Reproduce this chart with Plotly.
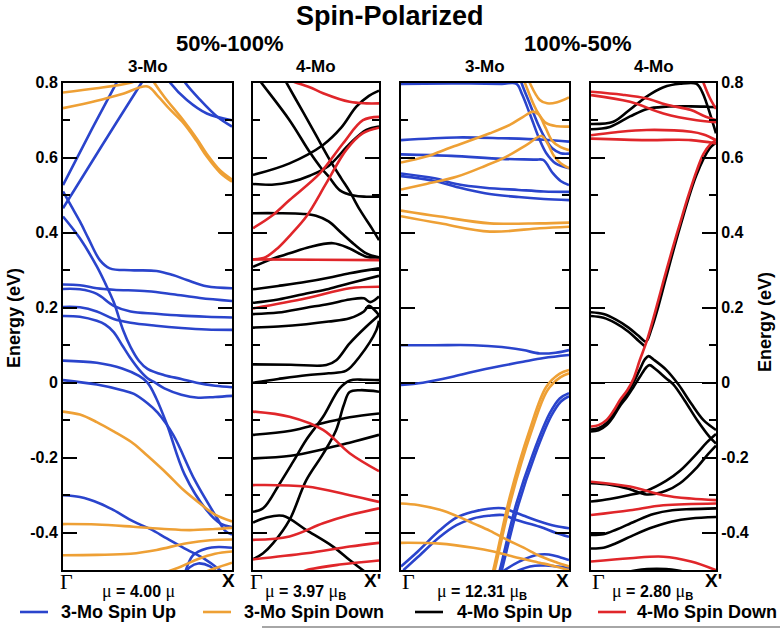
import plotly.graph_objects as go

# ---------------- data (k along Γ→X, energy in eV) ----------------
# Panel 1 : 50%-100%, 3-Mo
P1_UP = [
    [(0.58, 0.84), (0.634, 0.80), (0.733, 0.754), (0.851, 0.718), (1.0, 0.70)],
    [(0.67, 0.84), (0.723, 0.80), (0.812, 0.754), (0.911, 0.71), (1.0, 0.683)],
    [(0, 0.527), (0.158, 0.665), (0.317, 0.80), (0.35, 0.83)],
    [(0, 0.465), (0.23, 0.632), (0.465, 0.80), (0.5, 0.825)],
    [(0, 0.51), (0.05, 0.47), (0.1, 0.43), (0.15, 0.385), (0.218, 0.327), (0.277, 0.305), (0.4, 0.300),
     (0.554, 0.298), (0.65, 0.287), (0.733, 0.274), (0.85, 0.257), (1.0, 0.252)],
    [(0, 0.262), (0.1, 0.26), (0.2, 0.252), (0.3, 0.248), (0.5, 0.244), (0.65, 0.236), (0.81, 0.226), (1.0, 0.218)],
    [(0, 0.25), (0.1, 0.249), (0.2, 0.237), (0.3, 0.205), (0.4, 0.19), (0.55, 0.184), (0.7, 0.179), (0.85, 0.176), (1.0, 0.174)],
    [(0, 0.202), (0.1, 0.201), (0.2, 0.19), (0.3, 0.17), (0.4, 0.16), (0.55, 0.152), (0.7, 0.146), (0.85, 0.142), (1.0, 0.141)],
    [(0, 0.443), (0.1, 0.385), (0.2, 0.31), (0.25, 0.265), (0.3, 0.215), (0.356, 0.14), (0.4, 0.095), (0.45, 0.058),
     (0.5, 0.037), (0.6, 0.02), (0.7, 0.01), (0.79, 0.0), (0.9, -0.008), (1.0, -0.012)],
    [(0, 0.178), (0.1, 0.176), (0.2, 0.165), (0.25, 0.155), (0.3, 0.135), (0.35, 0.1), (0.4, 0.065), (0.45, 0.035),
     (0.5, 0.012), (0.545, 0.0), (0.6, -0.015), (0.7, -0.032), (0.8, -0.04), (0.9, -0.038), (1.0, -0.035)],
    [(0, 0.059), (0.2, 0.053), (0.35, 0.038), (0.45, 0.018), (0.5, 0.0), (0.55, -0.04), (0.614, -0.11), (0.72, -0.245),
     (0.85, -0.34), (0.93, -0.375), (1.0, -0.385)],
    [(0, 0.007), (0.2, -0.005), (0.35, -0.02), (0.42, -0.03), (0.5, -0.055), (0.56, -0.08), (0.653, -0.14), (0.78, -0.26),
     (0.91, -0.36), (0.96, -0.395), (1.0, -0.405)],
    [(0, -0.30), (0.1, -0.305), (0.218, -0.322), (0.3, -0.34), (0.416, -0.37), (0.515, -0.39), (0.614, -0.415),
     (0.733, -0.445), (0.83, -0.468), (0.93, -0.5), (0.98, -0.52)],
    [(0.72, -0.51), (0.77, -0.46), (0.85, -0.442), (0.92, -0.438), (1.0, -0.44)],
    [(0.7, -0.52), (0.75, -0.492), (0.8, -0.482), (0.87, -0.49), (0.93, -0.515)],
]
P1_DN = [
    [(0, 0.774), (0.2, 0.785), (0.4, 0.80), (0.5, 0.815)],
    [(0, 0.732), (0.2, 0.752), (0.35, 0.77), (0.5, 0.79), (0.56, 0.765), (0.63, 0.73), (0.713, 0.692), (0.79, 0.645),
     (0.851, 0.603), (0.93, 0.56), (1.0, 0.536)],
    [(0.5, 0.83), (0.54, 0.80), (0.6, 0.762), (0.713, 0.699), (0.79, 0.652), (0.851, 0.61), (0.93, 0.566), (1.0, 0.542)],
    [(0, -0.077), (0.1, -0.085), (0.2, -0.105), (0.3, -0.13), (0.416, -0.162), (0.5, -0.195), (0.614, -0.242),
     (0.71, -0.285), (0.81, -0.322), (0.9, -0.352), (1.0, -0.37)],
    [(0, -0.377), (0.2, -0.378), (0.416, -0.384), (0.6, -0.39), (0.75, -0.393), (0.9, -0.39), (1.0, -0.387)],
    [(0, -0.46), (0.2, -0.459), (0.4, -0.456), (0.554, -0.446), (0.733, -0.428), (0.87, -0.42), (1.0, -0.418)],
    [(0.58, -0.51), (0.7, -0.49), (0.8, -0.47), (0.9, -0.456), (1.0, -0.45)],
    [(0.78, -0.515), (0.9, -0.495), (1.0, -0.48)],
]

# Panel 2 : 50%-100%, 4-Mo
P2_UP = [
    [(0, 0.554), (0.29, 0.585), (0.556, 0.634), (0.7, 0.68), (0.82, 0.736), (0.92, 0.765), (1.0, 0.779)],
    [(0, 0.83), (0.066, 0.80), (0.29, 0.70), (0.45, 0.615), (0.542, 0.572), (0.6, 0.55), (0.69, 0.513), (0.8, 0.499),
     (0.9, 0.496), (1.0, 0.496)],
    [(0, 0.530), (0.15, 0.528), (0.3, 0.535), (0.45, 0.552), (0.6, 0.578), (0.77, 0.638), (0.9, 0.674), (1.0, 0.683)],
    [(0.2, 0.84), (0.265, 0.80), (0.4, 0.72), (0.5, 0.66), (0.608, 0.595), (0.7, 0.545), (0.767, 0.51), (0.85, 0.46),
     (0.952, 0.407), (1.0, 0.38)],
    [(0, 0.452), (0.2, 0.452), (0.4, 0.45), (0.5, 0.445), (0.6, 0.43), (0.7, 0.40), (0.8, 0.37), (0.9, 0.345), (1.0, 0.334)],
    [(0, 0.309), (0.15, 0.33), (0.29, 0.345), (0.45, 0.362), (0.635, 0.372), (0.767, 0.358), (0.9, 0.336), (1.0, 0.334)],
    [(0, 0.249), (0.2, 0.258), (0.423, 0.269), (0.6, 0.28), (0.767, 0.292), (1.0, 0.305)],
    [(0, 0.213), (0.2, 0.222), (0.423, 0.238), (0.6, 0.25), (0.767, 0.265), (1.0, 0.285)],
    [(0, 0.183), (0.2, 0.187), (0.423, 0.20), (0.6, 0.21), (0.767, 0.222), (0.88, 0.225), (0.93, 0.215), (1.0, 0.23)],
    [(0, 0.147), (0.2, 0.15), (0.423, 0.156), (0.6, 0.163), (0.767, 0.172), (0.88, 0.19), (0.92, 0.205), (0.96, 0.195),
     (1.0, 0.18)],
    [(0, 0.049), (0.3, 0.048), (0.582, 0.047), (0.661, 0.06), (0.767, 0.105), (0.9, 0.15), (1.0, 0.18)],
    [(0, 0.0), (0.2, 0.01), (0.423, 0.02), (0.6, 0.025), (0.74, 0.032), (0.847, 0.07), (0.979, 0.14), (1.0, 0.165)],
    [(0, -0.139), (0.3, -0.128), (0.55, -0.108), (0.767, -0.092), (1.0, -0.082)],
    [(0, -0.202), (0.3, -0.195), (0.55, -0.178), (0.767, -0.16), (1.0, -0.139)],
    [(0, -0.344), (0.08, -0.335), (0.21, -0.27), (0.32, -0.21), (0.423, -0.152), (0.556, -0.091), (0.688, -0.015),
     (0.77, 0.006), (0.88, 0.008), (1.0, 0.007)],
    [(0, -0.471), (0.08, -0.455), (0.16, -0.428), (0.29, -0.366), (0.423, -0.26), (0.556, -0.19), (0.66, -0.126),
     (0.72, -0.06), (0.767, -0.025), (0.85, -0.02), (1.0, -0.024)],
    [(0, -0.373), (0.1, -0.36), (0.238, -0.355), (0.423, -0.393), (0.635, -0.437), (0.767, -0.473), (0.873, -0.5),
     (0.95, -0.52)],
]
P2_DN = [
    [(0.2, 0.815), (0.344, 0.80), (0.45, 0.788), (0.556, 0.772), (0.767, 0.749), (0.9, 0.745), (1.0, 0.745)],
    [(0, 0.412), (0.15, 0.445), (0.29, 0.487), (0.53, 0.558), (0.714, 0.638), (0.873, 0.70), (1.0, 0.709)],
    [(0, 0.329), (0.1, 0.335), (0.2, 0.36), (0.3, 0.395), (0.423, 0.443), (0.582, 0.532), (0.74, 0.621), (0.87, 0.665),
     (1.0, 0.68)],
    [(0, 0.329), (0.5, 0.328), (1.0, 0.327)],
    [(0, 0.198), (0.423, 0.225), (0.767, 0.252), (1.0, 0.256)],
    [(0, -0.077), (0.29, -0.091), (0.556, -0.126), (0.767, -0.188), (1.0, -0.236)],
    [(0, -0.273), (0.423, -0.277), (0.767, -0.3), (1.0, -0.318)],
    [(0, -0.419), (0.29, -0.41), (0.556, -0.375), (0.767, -0.353), (1.0, -0.335)],
    [(0, -0.471), (0.423, -0.455), (0.767, -0.437), (1.0, -0.427)],
    [(0.35, -0.51), (0.423, -0.5), (0.688, -0.485), (1.0, -0.474)],
]

# Panel 3 : 100%-50%, 3-Mo
P3_UP = [
    [(0, 0.647), (0.33, 0.654), (0.6, 0.652), (0.85, 0.648), (1.0, 0.643)],
    [(0, 0.609), (0.3, 0.605), (0.6, 0.597), (0.8, 0.595), (0.846, 0.594), (0.905, 0.558), (0.95, 0.538), (1.0, 0.527)],
    [(0, 0.797), (0.3, 0.798), (0.6, 0.797), (0.687, 0.797), (0.72, 0.77), (0.766, 0.718), (0.826, 0.647),
     (0.865, 0.612), (0.92, 0.585), (1.0, 0.572)],
    [(0.69, 0.84), (0.717, 0.80), (0.77, 0.74), (0.82, 0.685), (0.86, 0.65), (0.9, 0.625), (0.95, 0.612), (1.0, 0.611)],
    [(0, 0.558), (0.2, 0.545), (0.33, 0.53), (0.5, 0.52), (0.7, 0.514), (0.85, 0.51), (1.0, 0.509)],
    [(0, 0.551), (0.2, 0.538), (0.33, 0.522), (0.5, 0.505), (0.7, 0.495), (0.85, 0.49), (1.0, 0.487)],
    [(0, 0.1), (0.2, 0.1), (0.43, 0.1), (0.6, 0.095), (0.727, 0.087), (0.826, 0.078), (0.92, 0.08), (1.0, 0.087)],
    [(0, -0.006), (0.13, 0.0), (0.3, 0.015), (0.43, 0.029), (0.6, 0.045), (0.727, 0.056), (0.85, 0.066), (1.0, 0.074)],
    [(0.57, -0.53), (0.588, -0.5), (0.687, -0.322), (0.786, -0.189), (0.885, -0.082), (0.945, -0.042), (1.0, -0.028)],
    [(0.582, -0.53), (0.6, -0.5), (0.699, -0.325), (0.798, -0.192), (0.895, -0.088), (0.952, -0.05), (1.0, -0.036)],
    [(0, -0.49), (0.1, -0.45), (0.232, -0.393), (0.33, -0.36), (0.43, -0.344), (0.52, -0.336), (0.608, -0.335),
     (0.667, -0.344), (0.727, -0.354), (0.826, -0.37), (0.92, -0.382), (1.0, -0.388)],
    [(0.014, -0.5), (0.1, -0.465), (0.232, -0.411), (0.33, -0.38), (0.43, -0.362), (0.52, -0.355), (0.608, -0.353),
     (0.687, -0.366), (0.826, -0.384), (0.92, -0.4), (1.0, -0.411)],
    [(0.5, -0.54), (0.6, -0.505), (0.7, -0.478), (0.8, -0.46), (0.88, -0.458), (0.95, -0.466), (1.0, -0.473)],
    [(0.56, -0.54), (0.59, -0.526), (0.768, -0.49), (0.88, -0.488), (1.0, -0.494)],
]
P3_DN = [
    [(0, 0.587), (0.15, 0.603), (0.3, 0.628), (0.529, 0.665), (0.65, 0.688), (0.727, 0.709), (0.786, 0.723),
     (0.82, 0.715), (0.86, 0.68), (0.9, 0.645), (0.95, 0.628), (1.0, 0.62)],
    [(0, 0.515), (0.15, 0.53), (0.33, 0.549), (0.5, 0.578), (0.628, 0.603), (0.75, 0.635), (0.836, 0.658),
     (0.87, 0.64), (0.91, 0.605), (0.95, 0.585), (1.0, 0.572)],
    [(0.74, 0.83), (0.766, 0.80), (0.826, 0.754), (0.87, 0.745), (0.93, 0.748), (1.0, 0.761)],
    [(0.71, 0.83), (0.737, 0.80), (0.806, 0.727), (0.865, 0.692), (0.93, 0.684), (1.0, 0.683)],
    [(0, 0.459), (0.232, 0.443), (0.529, 0.425), (0.826, 0.425), (1.0, 0.427)],
    [(0, 0.444), (0.232, 0.425), (0.529, 0.403), (0.826, 0.412), (1.0, 0.416)],
    [(0.53, -0.53), (0.549, -0.5), (0.648, -0.304), (0.766, -0.126), (0.865, -0.011), (0.945, 0.024), (1.0, 0.034)],
    [(0.54, -0.53), (0.558, -0.5), (0.656, -0.31), (0.775, -0.132), (0.872, -0.02), (0.95, 0.015), (1.0, 0.025)],
    [(0, -0.322), (0.1, -0.326), (0.232, -0.339), (0.33, -0.355), (0.43, -0.375), (0.53, -0.395), (0.628, -0.418),
     (0.73, -0.44), (0.826, -0.462), (0.92, -0.478), (1.0, -0.49)],
    [(0, -0.427), (0.232, -0.429), (0.43, -0.44), (0.55, -0.45), (0.67, -0.464), (0.826, -0.48), (0.92, -0.49), (1.0, -0.5)],
]

# Panel 4 : 100%-50%, 4-Mo
P4_UP = [
    [(0, 0.69), (0.179, 0.696), (0.3, 0.725), (0.445, 0.763), (0.58, 0.788), (0.712, 0.797), (0.845, 0.797),
     (0.89, 0.775), (0.925, 0.745), (1.0, 0.665)],
    [(0, 0.676), (0.15, 0.682), (0.312, 0.71), (0.45, 0.73), (0.6, 0.736), (0.8, 0.737), (0.925, 0.736), (1.0, 0.735)],
    [(0, 0.188), (0.1, 0.183), (0.2, 0.168), (0.3, 0.147), (0.38, 0.125), (0.44, 0.11), (0.48, 0.14), (0.54, 0.205),
     (0.6, 0.28), (0.712, 0.415), (0.845, 0.555), (0.95, 0.625), (1.0, 0.64)],
    [(0, 0.178), (0.1, 0.173), (0.2, 0.158), (0.3, 0.136), (0.38, 0.112), (0.43, 0.097)],
    [(0, -0.125), (0.06, -0.121), (0.125, -0.107), (0.18, -0.083), (0.232, -0.054), (0.29, -0.028), (0.339, 0.0),
     (0.39, 0.035), (0.43, 0.062), (0.46, 0.071), (0.5, 0.062), (0.6, 0.035), (0.7, -0.005), (0.8, -0.055),
     (0.9, -0.1), (1.0, -0.126)],
    [(0, -0.13), (0.06, -0.127), (0.125, -0.113), (0.18, -0.09), (0.232, -0.062), (0.29, -0.037), (0.339, -0.012),
     (0.39, 0.015), (0.445, 0.042), (0.47, 0.047), (0.51, 0.038), (0.6, 0.012), (0.66, -0.005), (0.75, -0.048),
     (0.85, -0.1), (0.95, -0.145), (1.0, -0.162)],
    [(0, -0.317), (0.15, -0.31), (0.3, -0.3), (0.445, -0.288), (0.6, -0.262), (0.712, -0.235), (0.85, -0.188),
     (0.925, -0.16), (1.0, -0.137)],
    [(0, -0.268), (0.15, -0.272), (0.3, -0.283), (0.445, -0.298), (0.6, -0.288), (0.712, -0.268), (0.85, -0.225),
     (0.925, -0.195), (1.0, -0.168)],
    [(0, -0.406), (0.1, -0.404), (0.2, -0.392), (0.35, -0.37), (0.5, -0.35), (0.65, -0.34), (0.8, -0.337), (1.0, -0.335)],
    [(0, -0.442), (0.1, -0.44), (0.2, -0.428), (0.35, -0.405), (0.5, -0.385), (0.65, -0.37), (0.8, -0.362), (1.0, -0.358)],
    [(0.2, -0.52), (0.3, -0.505), (0.45, -0.497), (0.6, -0.497), (0.75, -0.505), (0.85, -0.52)],
]
P4_DN = [
    [(0, 0.776), (0.25, 0.768), (0.445, 0.758), (0.6, 0.742), (0.8, 0.727), (0.9, 0.712), (1.0, 0.70)],
    [(0, 0.767), (0.312, 0.749), (0.579, 0.718), (0.845, 0.70), (1.0, 0.695)],
    [(0, 0.66), (0.2, 0.668), (0.445, 0.674), (0.8, 0.669), (0.9, 0.662), (1.0, 0.647)],
    [(0, 0.651), (0.445, 0.647), (0.8, 0.647), (1.0, 0.638)],
    [(0.87, 0.83), (0.9, 0.80), (0.95, 0.76), (1.0, 0.73)],
    [(0, -0.117), (0.06, -0.113), (0.125, -0.099), (0.18, -0.075), (0.232, -0.046), (0.29, -0.02), (0.339, 0.01),
     (0.39, 0.06), (0.445, 0.11), (0.51, 0.185), (0.579, 0.27), (0.65, 0.355), (0.712, 0.425), (0.78, 0.5),
     (0.845, 0.565), (0.9, 0.61), (0.952, 0.635), (1.0, 0.647)],
    [(0, -0.264), (0.312, -0.277), (0.579, -0.3), (0.8, -0.309), (1.0, -0.313)],
    [(0, -0.353), (0.312, -0.34), (0.579, -0.327), (1.0, -0.322)],
    [(0, -0.477), (0.312, -0.468), (0.579, -0.464), (0.8, -0.477), (1.0, -0.5)],
]

PANEL_TITLES = ["3-Mo", "4-Mo", "3-Mo", "4-Mo"]
GROUP_TITLES = ["50%-100%", "100%-50%"]
END_LABELS = ["X", "X'", "X", "X'"]
MU_VALUES = ["4.00", "3.97", "12.31", "2.80"]
MU_UNIT_SUB = [False, True, True, True]
Y_TICKS = [-0.4, -0.2, 0, 0.2, 0.4, 0.6, 0.8]
Y_TICK_TEXT = ["-0.4", "-0.2", "0", "0.2", "0.4", "0.6", "0.8"]
Y_MINOR = [-0.5, -0.3, -0.1, 0.1, 0.3, 0.5, 0.7]
LEGEND_NAMES = ["3-Mo Spin Up", "3-Mo Spin Down", "4-Mo Spin Up", "4-Mo Spin Down"]

# ---------------- styling / layout ----------------
W, H = 780, 630
BLUE, ORANGE, BLACK, RED = "#2a44cc", "#eea035", "#000000", "#e0262a"
SANS = "Liberation Sans, Arial, sans-serif"
SERIF = "Liberation Serif, Times New Roman, serif"
PANEL_X = [(63, 232), (253, 379), (401, 569), (591, 716)]
Y_TOP, Y_BOT = 82.7, 570.2


def px(x):
    return x / W


def py(y):
    return 1 - y / H


fig = go.Figure()
panels = [(P1_UP, BLUE, P1_DN, ORANGE), (P2_UP, BLACK, P2_DN, RED),
          (P3_UP, BLUE, P3_DN, ORANGE), (P4_UP, BLACK, P4_DN, RED)]

for i, (up, cu, dn, cd) in enumerate(panels):
    ax = "" if i == 0 else str(i + 1)
    for bands, col in ((up, cu), (dn, cd)):
        for b in bands:
            fig.add_trace(go.Scatter(
                x=[p[0] for p in b], y=[p[1] for p in b], mode="lines",
                line=dict(color=col, width=2.6, shape="spline", smoothing=1.0),
                xaxis="x" + ax, yaxis="y" + ax, showlegend=False, hoverinfo="skip"))

layout = dict(
    width=W, height=H, margin=dict(l=0, r=0, t=0, b=0, autoexpand=False),
    paper_bgcolor="white", plot_bgcolor="white",
    font=dict(family=SANS, color="black", size=16),
    showlegend=False,
)

for i, (x0, x1) in enumerate(PANEL_X):
    ax = "" if i == 0 else str(i + 1)
    layout["xaxis" + ax] = dict(
        domain=[px(x0), px(x1)], range=[0, 1], anchor="y" + ax, automargin=False,
        showline=True, linewidth=2, linecolor="black", mirror=True,
        ticks="", showticklabels=False, showgrid=False, zeroline=False)
    layout["yaxis" + ax] = dict(
        domain=[py(Y_BOT), py(Y_TOP)], range=[-0.5, 0.8], anchor="x" + ax, automargin=False,
        showline=True, linewidth=2, linecolor="black", mirror="ticks",
        ticks="inside", ticklen=14, tickwidth=2, tickcolor="black",
        tickvals=Y_TICKS, ticktext=Y_TICK_TEXT,
        tickfont=dict(family=SANS, size=16, weight="bold"),
        minor=dict(tickvals=Y_MINOR, ticks="inside", ticklen=7, tickwidth=2, tickcolor="black"),
        showgrid=False, zeroline=True, zerolinecolor="black", zerolinewidth=1.5,
        showticklabels=(i in (0, 3)), side="right" if i == 3 else "left")

fig.update_layout(**layout)

ann = []


def text(x, y, s, size, bold=True, family=SANS, angle=0, xanchor="center"):
    ann.append(dict(x=px(x), y=py(y), xref="paper", yref="paper", text=s, showarrow=False,
                    xanchor=xanchor, yanchor="middle", textangle=angle,
                    font=dict(family=family, size=size, color="black",
                              weight="bold" if bold else "normal")))


text(390, 16, "Spin-Polarized", 27)
text(230, 44, GROUP_TITLES[0], 22)
text(578, 44, GROUP_TITLES[1], 22)
for (x0, x1), t in zip(PANEL_X, PANEL_TITLES):
    text((x0 + x1) / 2, 67, t, 17)

GAMMA_X = [66, 256, 408, 598]
END_X = [228, 372, 562, 713]
MU_X = [138, 305, 482, 652]
for i in range(4):
    text(GAMMA_X[i], 581, "Γ", 22, bold=False, family=SERIF)
    text(END_X[i], 580, END_LABELS[i], 19)
    mu = '<span style="font-family:Liberation Serif;font-weight:normal;font-size:18px">μ</span>'
    unit = mu + ("<sub>B</sub>" if MU_UNIT_SUB[i] else "")
    text(MU_X[i], 591, mu + " = " + MU_VALUES[i] + " " + unit, 16)

text(14, 318, "Energy (eV)", 18, angle=-90)
text(765, 322, "Energy (eV)", 18, angle=-90)

# legend (drawn manually)
LEG_LINE_X = [(20, 48), (203, 231), (415, 443), (598, 626)]
LEG_TEXT_X = [59, 242, 455, 635]
shapes = []
for (a, b), tx, name, col in zip(LEG_LINE_X, LEG_TEXT_X, LEGEND_NAMES, [BLUE, ORANGE, BLACK, RED]):
    shapes.append(dict(type="line", xref="paper", yref="paper", x0=px(a), x1=px(b), y0=py(612), y1=py(612),
                       line=dict(color=col, width=2.6)))
    text(tx, 612, name, 18, xanchor="left")
shapes.append(dict(type="line", xref="paper", yref="paper", x0=px(262), x1=px(780), y0=py(627), y1=py(627),
                   line=dict(color="#888888", width=1.5)))

fig.update_layout(annotations=ann, shapes=shapes)

fig.write_html("out.html",
               config={"displayModeBar": False, "staticPlot": True},
               post_script="document.body.style.margin='0px';document.body.style.overflow='hidden';")
